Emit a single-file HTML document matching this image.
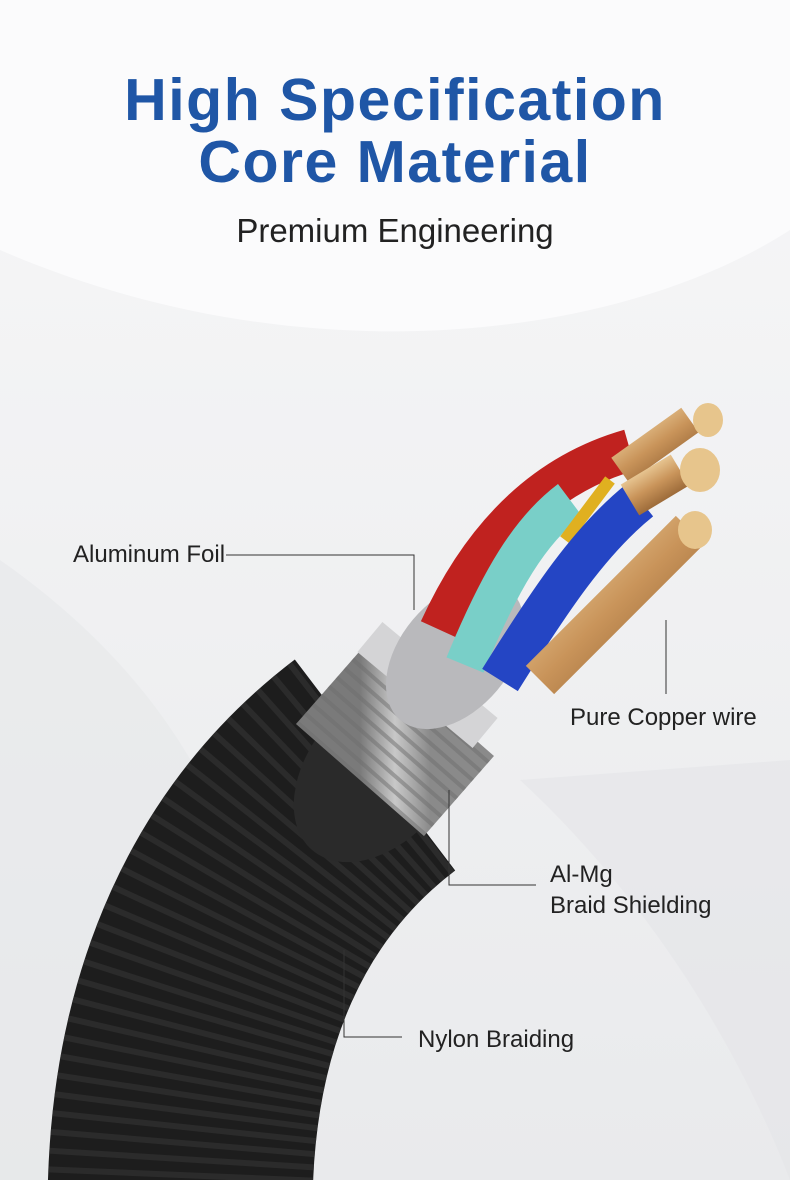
<!DOCTYPE html>
<html><head><meta charset="utf-8"><style>
html,body{margin:0;padding:0}
body{width:790px;height:1180px;overflow:hidden;position:relative;background:#f1f2f4;font-family:"Liberation Sans",sans-serif}
svg{position:absolute;left:0;top:0}
.t{position:absolute;left:0;width:790px;text-align:center;color:#1f56a6;font-weight:bold;font-size:59px;letter-spacing:1.5px}
.l{position:absolute;font-size:24px;color:#222}
</style></head><body>
<svg width="790" height="1180" viewBox="0 0 790 1180">
<defs>
<linearGradient id="bg" x1="0" y1="0" x2="0" y2="1"><stop offset="0" stop-color="#f7f7f8"/><stop offset="1" stop-color="#e9eaec"/></linearGradient>
<linearGradient id="cu" x1="0" y1="0" x2="1" y2="1"><stop offset="0" stop-color="#f3d9a8"/><stop offset="0.5" stop-color="#c9945a"/><stop offset="1" stop-color="#8a5a2c"/></linearGradient>
<linearGradient id="sv" x1="0" y1="0" x2="1" y2="0"><stop offset="0" stop-color="#7a7a7a"/><stop offset="0.5" stop-color="#c8c8c8"/><stop offset="1" stop-color="#8a8a8a"/></linearGradient>
</defs>
<rect width="790" height="1180" fill="url(#bg)"/>
<path d="M0 0H790V230C620 340 300 380 0 250Z" fill="#fbfbfc"/>
<path d="M0 560C200 700 300 900 260 1180H0Z" fill="#e6e7ea" opacity="0.6"/>
<path d="M520 780C650 900 740 1050 790 1180V760Z" fill="#e4e5e8" opacity="0.6"/>
<path d="M180 1210C180 1010 250 860 375 765" stroke="#1d1d1d" stroke-width="265" fill="none"/>
<path d="M180 1210C180 1010 250 860 375 765" stroke="#3a3a3a" stroke-width="265" fill="none" stroke-dasharray="6 10" opacity="0.5"/>
<ellipse cx="380" cy="770" rx="70" ry="105" transform="rotate(40 380 770)" fill="#2a2a2a"/>
<path d="M360 780L430 700" stroke="url(#sv)" stroke-width="170" fill="none"/>
<path d="M360 780L430 700" stroke="#6d6d6d" stroke-width="170" fill="none" stroke-dasharray="4 8" opacity="0.5"/>
<path d="M415 700L440 670" stroke="#d4d4d6" stroke-width="150" fill="none"/>
<ellipse cx="455" cy="655" rx="55" ry="85" transform="rotate(40 455 655)" fill="#b9b9bc"/>
<path d="M440 630C490 520 560 470 630 450" stroke="#c0221f" stroke-width="42" fill="none"/>
<path d="M465 665C500 580 530 530 570 500" stroke="#79cfc8" stroke-width="40" fill="none"/>
<path d="M565 540L610 480" stroke="#e0b020" stroke-width="12" fill="none"/>
<path d="M500 680C550 600 590 540 640 500" stroke="#2445c4" stroke-width="42" fill="none"/>
<path d="M540 680C600 620 650 570 690 530" stroke="url(#cu)" stroke-width="40" fill="none"/>
<path d="M620 470L690 420" stroke="url(#cu)" stroke-width="30" fill="none"/>
<path d="M630 500L680 470" stroke="url(#cu)" stroke-width="36" fill="none"/>
<ellipse cx="708" cy="420" rx="15" ry="17" fill="#e7c58c"/>
<ellipse cx="700" cy="470" rx="20" ry="22" fill="#e7c58c"/>
<ellipse cx="695" cy="530" rx="17" ry="19" fill="#e7c58c"/>
<g stroke="#333" stroke-width="1" fill="none">
<path d="M226 555H414V610"/>
<path d="M666 620V694"/>
<path d="M449 790V885H536"/>
<path d="M344 950V1037H402"/>
</g>
</svg>
<div class="t" style="top:66px">High Specification</div>
<div class="t" style="top:128px">Core Material</div>
<div style="position:absolute;left:0;width:790px;text-align:center;top:212px;font-size:33px;color:#222">Premium Engineering</div>
<div class="l" style="left:73px;top:541px">Aluminum Foil</div>
<div class="l" style="left:570px;top:704px">Pure Copper wire</div>
<div class="l" style="left:550px;top:861px">Al-Mg</div>
<div class="l" style="left:550px;top:892px">Braid Shielding</div>
<div class="l" style="left:418px;top:1026px">Nylon Braiding</div>
</body></html>
